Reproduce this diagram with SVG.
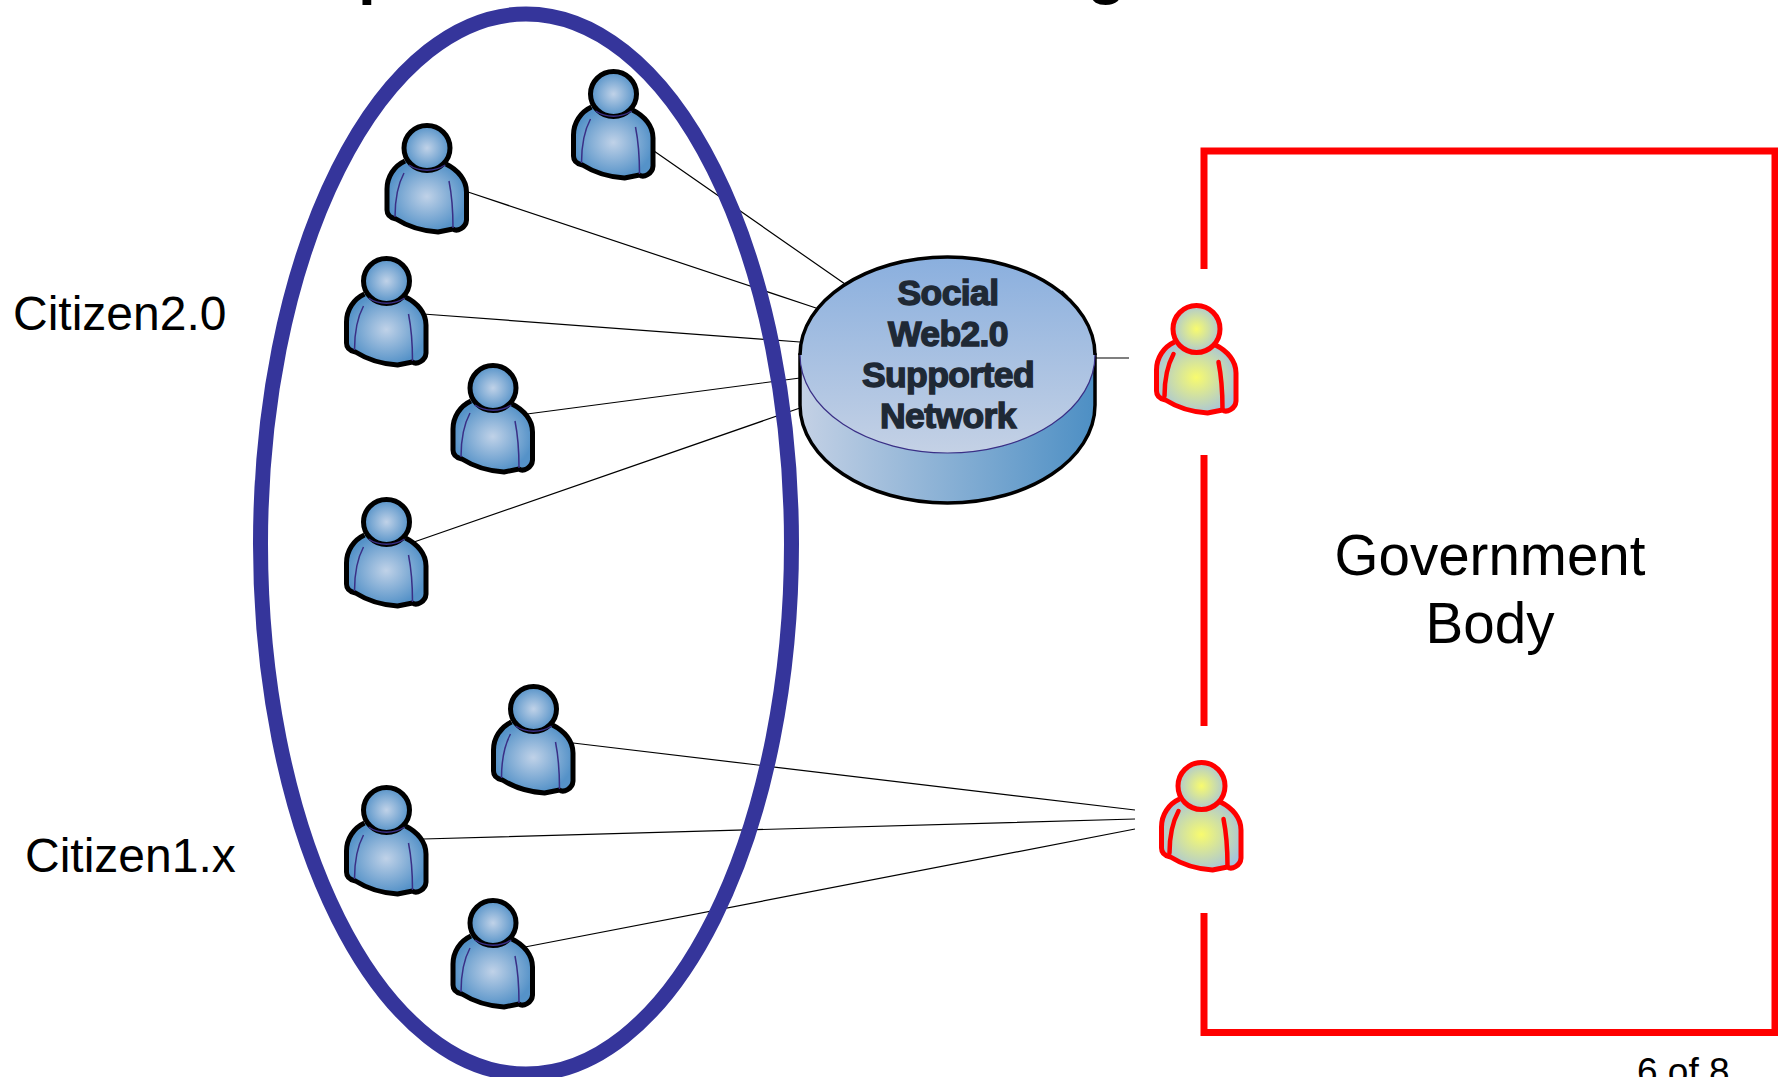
<svg xmlns="http://www.w3.org/2000/svg" xmlns:xlink="http://www.w3.org/1999/xlink" width="1778" height="1077" viewBox="0 0 1778 1077">
<style>
text{font-family:"Liberation Sans",Arial,sans-serif;fill:#000}
.c{stroke:#000;stroke-width:1.2;fill:none}
.lab{font-size:48px}
.gov{font-size:56.5px;text-anchor:middle}
.net{font-size:35.5px;font-weight:bold;text-anchor:middle;fill:#1f2935;stroke:#1f2935;stroke-width:1.4;letter-spacing:-.6px}
.title{font-size:64px;font-weight:bold}
.rb{stroke:#f00;stroke-width:7;fill:none}
.b{fill:url(#bp);stroke:#000;stroke-width:5;stroke-linejoin:round}
.bi{fill:none;stroke:#3a2f86;stroke-width:1.5}
.r{fill:url(#yp);stroke:#f00;stroke-width:5;stroke-linejoin:round}
.ri{fill:none;stroke:#f00;stroke-width:4.5;stroke-linecap:round}
</style>
<defs>
<radialGradient id="bp" cx=".5" cy=".5" r=".5"><stop offset="0" stop-color="#c0d2e8"/><stop offset="1" stop-color="#5592c8"/></radialGradient>
<radialGradient id="yp" cx=".5" cy=".5" r=".55"><stop offset="0" stop-color="#f8fb6e"/><stop offset="1" stop-color="#a5c3dc"/></radialGradient>
<linearGradient id="top" x1="0" y1="0" x2="0" y2="1"><stop offset="0" stop-color="#8aafde"/><stop offset="1" stop-color="#c4d1e5"/></linearGradient>
<linearGradient id="side" x1="0" y1="0" x2="1" y2="0"><stop offset="0" stop-color="#c4d1e5"/><stop offset="1" stop-color="#4d8fc4"/></linearGradient>
<path id="body" d="M-22 13C-33 18-40 29-40 41L-40 62C-40 67-36 70-31 71C-20 78-5 83 11 84L26 81C30 84 39 80 39.500 72L39.500 44C39.500 32 31 22 19 16"/>
<g id="pb">
<use xlink:href="#body" href="#body" class="b"/>
<path class="bi" d="M-23 25C-30 38-32 52-32 69M22 33C25 48 26 64 26 80"/>
<ellipse class="b" cx="0" cy="0" rx="23" ry="22.500"/>
<path class="bi" d="M-18 17C-8 24 8 24 18 17"/>
</g>
<g id="pr">
<use xlink:href="#body" href="#body" class="r"/>
<path class="ri" d="M-23 25C-30 38-32 52-32 67M22 33C25 48 26 64 26 80"/>
<ellipse class="r" cx="0" cy="0" rx="23.500" ry="23.500"/>
</g>
</defs>
<rect width="1778" height="1077" fill="#fff"/>
<g id="title"><text class="title" x="358" y="-8">p</text><text class="title" x="1087" y="-8">g</text></g>
<g id="connectors">
<path class="c" d="M654 151L845 284M468 192L816 308M423 314L800 342M527 414L800 378M414 542L800 408M1095 358L1129 358M1062 291L1068 297M573 743L1135 810M423 839L1135 819M525 947L1135 829"/>
</g>
<g id="citizen-group"><ellipse cx="526" cy="544" rx="265.500" ry="530" fill="none" stroke="#35359b" stroke-width="15"/></g>
<g id="network">
<path d="M800 355V405C800 459 866 503 947.500 503S1095 459 1095 405V355Z" fill="url(#side)" stroke="#000" stroke-width="3.500"/>
<ellipse cx="947.500" cy="355" rx="147.500" ry="98" fill="url(#top)" stroke="#3a2f86" stroke-width="1.200"/>
<path d="M800 355C800 301 866 257 947.500 257S1095 301 1095 355" fill="none" stroke="#000" stroke-width="3.500"/>
<text class="net" x="948" y="305">Social</text>
<text class="net" x="948" y="346">Web2.0</text>
<text class="net" x="948" y="387">Supported</text>
<text class="net" x="948" y="428">Network</text>
</g>
<g id="citizen-1"><use xlink:href="#pb" href="#pb" x="613.500" y="94"/></g>
<g id="citizen-2"><use xlink:href="#pb" href="#pb" x="427" y="148"/></g>
<g id="citizen-3"><use xlink:href="#pb" href="#pb" x="386.500" y="281"/></g>
<g id="citizen-4"><use xlink:href="#pb" href="#pb" x="493" y="388"/></g>
<g id="citizen-5"><use xlink:href="#pb" href="#pb" x="386.500" y="522"/></g>
<g id="citizen-6"><use xlink:href="#pb" href="#pb" x="533.500" y="709"/></g>
<g id="citizen-7"><use xlink:href="#pb" href="#pb" x="386.500" y="810"/></g>
<g id="citizen-8"><use xlink:href="#pb" href="#pb" x="493" y="923"/></g>
<g id="government">
<path class="rb" d="M1204 269V151H1775V1032.500H1204V913M1204 455V726"/>
<text class="gov" x="1490" y="575">Government</text>
<text class="gov" x="1490" y="643">Body</text>
</g>
<g id="official-1"><use xlink:href="#pr" href="#pr" x="1196.500" y="329"/></g>
<g id="official-2"><use xlink:href="#pr" href="#pr" x="1201.500" y="786"/></g>
<g id="labels">
<text class="lab" x="13" y="330">Citizen2.0</text>
<text class="lab" x="25" y="872">Citizen1.x</text>
<text x="1637" y="1084" font-size="37">6 of 8</text>
</g>
</svg>
